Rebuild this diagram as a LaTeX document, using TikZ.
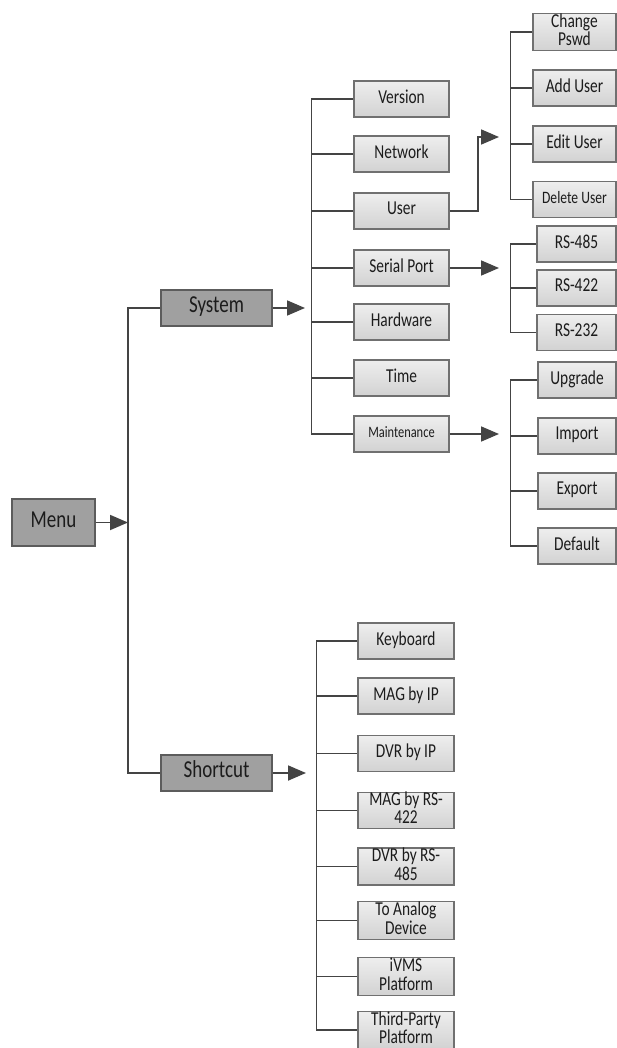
\documentclass[tikz,border=0pt]{standalone}
\usepackage{fontspec}
\setmainfont{Carlito}
\usepackage{tikz}
\usetikzlibrary{arrows.meta}
\usepackage{xcolor}

\definecolor{topfill}{RGB}{160,160,160}
\definecolor{topedge}{RGB}{92,92,92}
\definecolor{subtop}{RGB}{238,238,238}
\definecolor{subbot}{RGB}{210,210,210}
\definecolor{subedge}{RGB}{112,112,112}
\definecolor{wirecol}{RGB}{68,68,68}
\definecolor{inkcol}{RGB}{28,28,28}

% text in the source is drawn a little taller than wide
\newcommand{\tallbox}[1]{\scalebox{1}[1.28]{\begin{tabular}{@{}c@{}}#1\end{tabular}}}

\tikzset{
  topbox/.style={draw=topedge, line width=1.2pt, fill=topfill, text=inkcol,
    minimum width=111pt, minimum height=36pt, inner sep=0pt,
    font=\fontsize{19}{19}\selectfont},
  subbox/.style={draw=subedge, line width=1.2pt, top color=subtop, bottom color=subbot,
    text=inkcol, minimum height=36pt, inner sep=0pt,
    font=\fontsize{15.4}{13}\selectfont},
  wire/.style={draw=wirecol, line width=1.8pt},
  wirearrow/.style={wire, -{Triangle[length=18pt,width=15pt]}}
}

\begin{document}
\begin{tikzpicture}[x=1pt, y=-1pt]
  \clip (0,0) rectangle (617,1048);

  % first level
  \node[topbox, minimum width=83pt, minimum height=47pt] (menu) at (53.5,522.5) {\tallbox{Menu}};
  \node[topbox] (system) at (216.5,308) {\tallbox{System}};
  \node[topbox] (shortcut) at (216.5,773) {\tallbox{Shortcut}};

  % system items
  \node[subbox, minimum width=95pt] (version) at (401.5,99) {\tallbox{Version}};
  \node[subbox, minimum width=95pt] (network) at (401.5,154) {\tallbox{Network}};
  \node[subbox, minimum width=95pt] (user) at (401.5,211) {\tallbox{User}};
  \node[subbox, minimum width=95pt] (serial) at (401.5,268) {\tallbox{Serial Port}};
  \node[subbox, minimum width=95pt] (hardware) at (401.5,322) {\tallbox{Hardware}};
  \node[subbox, minimum width=95pt] (time) at (401.5,378) {\tallbox{Time}};
  \node[subbox, minimum width=95pt, font=\fontsize{12.4}{13}\selectfont] (maint) at (401.5,434) {\tallbox{Maintenance}};

  % user items
  \node[subbox, minimum width=83pt] (pswd) at (574.5,32) {\tallbox{Change\\Pswd}};
  \node[subbox, minimum width=83pt] (adduser) at (574.5,88) {\tallbox{Add User}};
  \node[subbox, minimum width=83pt] (edituser) at (574.5,144) {\tallbox{Edit User}};
  \node[subbox, minimum width=83pt, font=\fontsize{13.6}{13}\selectfont] (deluser) at (574.5,199.5) {\tallbox{Delete User}};

  % serial port items
  \node[subbox, minimum width=79pt] (rs485) at (576.5,244) {\tallbox{RS-485}};
  \node[subbox, minimum width=79pt] (rs422) at (576.5,288) {\tallbox{RS-422}};
  \node[subbox, minimum width=79pt] (rs232) at (576.5,332.5) {\tallbox{RS-232}};

  % maintenance items
  \node[subbox, minimum width=78pt] (upgrade) at (577,380) {\tallbox{Upgrade}};
  \node[subbox, minimum width=78pt] (import) at (577,436) {\tallbox{Import}};
  \node[subbox, minimum width=78pt] (export) at (577,491) {\tallbox{Export}};
  \node[subbox, minimum width=78pt] (default) at (577,546) {\tallbox{Default}};

  % shortcut items
  \node[subbox, minimum width=96pt] (keyboard) at (406,641) {\tallbox{Keyboard}};
  \node[subbox, minimum width=96pt] (magip) at (406,696) {\tallbox{MAG by IP}};
  \node[subbox, minimum width=96pt] (dvrip) at (406,753.5) {\tallbox{DVR by IP}};
  \node[subbox, minimum width=96pt] (magrs) at (406,810.5) {\tallbox{MAG by RS-\\422}};
  \node[subbox, minimum width=96pt] (dvrrs) at (406,866.5) {\tallbox{DVR by RS-\\485}};
  \node[subbox, minimum width=96pt] (analog) at (406,920.5) {\tallbox{To Analog\\Device}};
  \node[subbox, minimum width=96pt] (ivms) at (406,976.5) {\tallbox{iVMS\\Platform}};
  \node[subbox, minimum width=96pt] (third) at (406,1030) {\tallbox{Third-Party\\Platform}};

  % arrow heads and bus points
  \coordinate (menubus) at (128,522.5);
  \coordinate (sysbus) at (305,308);
  \coordinate (userhead) at (499,137);
  \coordinate (serhead) at (499,268);
  \coordinate (mainthead) at (499,434);
  \coordinate (shorthead) at (306,773);

  % menu level
  \draw[wirearrow] (menu) -- (menubus);
  \draw[wire] (system.west) -| (menubus) |- (shortcut.west);

  % system level
  \draw[wirearrow] (system) -- (sysbus);
  \draw[wire] (version.west) -- ++(-42,0) |- (maint.west);
  \draw[wire] (network.west) -- ++(-42,0);
  \draw[wire] (user.west) -- ++(-42,0);
  \draw[wire] (serial.west) -- ++(-42,0);
  \draw[wire] (hardware.west) -- ++(-42,0);
  \draw[wire] (time.west) -- ++(-42,0);

  % user level
  \draw[wirearrow] (user.east) -- ++(28,0) |- (userhead);
  \draw[wire] (pswd.west) -- ++(-22,0) |- (deluser.west);
  \draw[wire] (adduser.west) -- ++(-22,0);
  \draw[wire] (edituser.west) -- ++(-22,0);

  % serial level
  \draw[wirearrow] (serial) -- (serhead);
  \draw[wire] (rs485.west) -- ++(-26,0) |- (rs232.west);
  \draw[wire] (rs422.west) -- ++(-26,0);

  % maintenance level
  \draw[wirearrow] (maint) -- (mainthead);
  \draw[wire] (upgrade.west) -- ++(-27,0) |- (default.west);
  \draw[wire] (import.west) -- ++(-27,0);
  \draw[wire] (export.west) -- ++(-27,0);

  % shortcut level
  \draw[wirearrow] (shortcut) -- (shorthead);
  \draw[wire] (keyboard.west) -- ++(-41,0) |- (third.west);
  \draw[wire] (magip.west) -- ++(-41,0);
  \draw[wire] (dvrip.west) -- ++(-41,0);
  \draw[wire] (magrs.west) -- ++(-41,0);
  \draw[wire] (dvrrs.west) -- ++(-41,0);
  \draw[wire] (analog.west) -- ++(-41,0);
  \draw[wire] (ivms.west) -- ++(-41,0);
\end{tikzpicture}
\end{document}
